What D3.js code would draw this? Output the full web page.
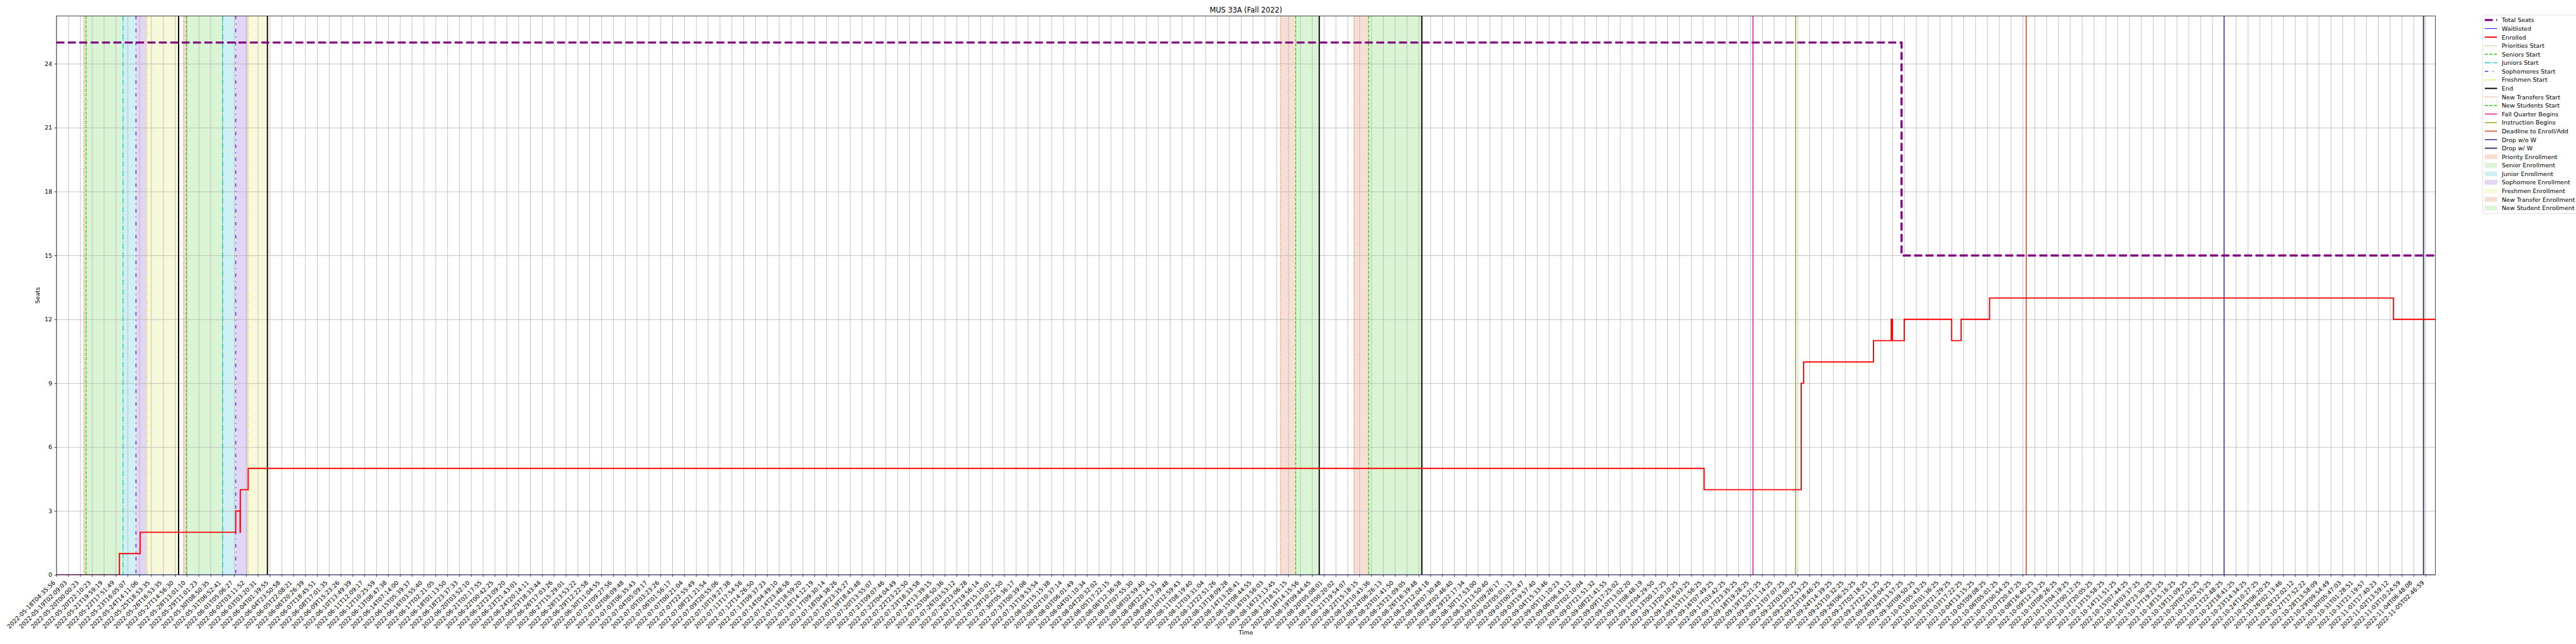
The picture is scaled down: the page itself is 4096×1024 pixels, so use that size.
<!DOCTYPE html>
<html><head><meta charset="utf-8">
<script src="https://cdn.jsdelivr.net/npm/d3@7"></script>
<style>body{margin:0;background:#fff;overflow:hidden} svg{display:block} text{font-family:"DejaVu Sans",sans-serif;fill:#000}</style>
</head><body>
<svg id="c" width="4096" height="1024"></svg>
<script>
// ---------------- data ----------------
const title = "MUS 33A (Fall 2022)";
const tickLabels = [
"2022-05-18T04:35:56","2022-05-19T02:09:03","2022-05-20T00:00:23","2022-05-20T22:10:23","2022-05-21T19:59:19",
"2022-05-22T17:51:49","2022-05-23T16:05:07","2022-05-24T14:11:06","2022-05-25T18:53:35","2022-05-26T16:53:35",
"2022-05-27T14:56:30","2022-05-28T13:01:10","2022-05-29T11:01:23","2022-05-30T08:50:35","2022-05-31T06:52:41",
"2022-06-01T05:06:27","2022-06-02T03:11:52","2022-06-03T03:20:31","2022-06-04T01:39:55","2022-06-04T23:50:58",
"2022-06-05T22:08:21","2022-06-06T20:26:39","2022-06-07T18:45:51","2022-06-08T17:01:35","2022-06-09T15:23:26",
"2022-06-10T13:49:39","2022-06-11T12:09:17","2022-06-12T10:25:59","2022-06-13T08:47:38","2022-06-14T07:14:00",
"2022-06-15T05:39:37","2022-06-16T03:55:40","2022-06-17T02:21:05","2022-06-18T01:13:50","2022-06-18T23:37:33",
"2022-06-20T03:52:10","2022-06-21T02:17:55","2022-06-22T00:42:25","2022-06-22T23:09:20","2022-06-23T21:43:01",
"2022-06-24T20:14:11","2022-06-25T18:33:44","2022-06-26T17:03:26","2022-06-27T15:29:01","2022-06-28T13:53:22",
"2022-06-29T12:22:58","2022-06-30T11:04:55","2022-07-01T09:27:56","2022-07-02T08:09:48","2022-07-03T06:35:43",
"2022-07-04T05:09:17","2022-07-05T03:23:26","2022-07-06T01:56:17","2022-07-07T00:21:04","2022-07-07T22:55:49",
"2022-07-08T21:21:54","2022-07-09T20:55:06","2022-07-10T19:27:38","2022-07-11T17:54:56","2022-07-12T14:26:50",
"2022-07-13T09:37:23","2022-07-14T04:49:10","2022-07-14T23:48:58","2022-07-15T18:59:20","2022-07-16T14:12:19",
"2022-07-17T09:30:14","2022-07-18T04:38:26","2022-07-18T23:35:27","2022-07-19T18:43:48","2022-07-20T13:55:07",
"2022-07-21T09:07:46","2022-07-22T04:04:49","2022-07-22T23:22:50","2022-07-23T18:33:58","2022-07-24T13:39:15",
"2022-07-25T08:50:36","2022-07-26T03:53:12","2022-07-26T23:06:28","2022-07-27T19:56:14","2022-07-28T15:10:01",
"2022-07-29T10:22:50","2022-07-30T05:36:17","2022-07-31T00:39:08","2022-07-31T19:53:54","2022-08-01T15:15:38",
"2022-08-02T10:37:14","2022-08-03T06:01:49","2022-08-04T01:10:34","2022-08-04T20:32:02","2022-08-05T17:22:15",
"2022-08-06T12:36:58","2022-08-07T07:55:30","2022-08-08T02:59:40","2022-08-08T22:14:31","2022-08-09T17:39:48",
"2022-08-10T12:59:43","2022-08-11T08:19:40","2022-08-12T03:31:04","2022-08-12T22:51:26","2022-08-13T18:09:28",
"2022-08-14T13:28:41","2022-08-15T08:44:55","2022-08-16T03:56:03","2022-08-16T23:13:45","2022-08-17T18:51:15",
"2022-08-18T14:15:56","2022-08-19T09:44:45","2022-08-20T05:08:01","2022-08-21T00:20:02","2022-08-21T19:54:07",
"2022-08-22T15:18:15","2022-08-23T10:43:36","2022-08-24T06:26:13","2022-08-25T01:41:50","2022-08-25T21:09:05",
"2022-08-26T16:39:48","2022-08-27T12:04:18","2022-08-28T07:30:48","2022-08-29T02:46:40","2022-08-29T22:17:34",
"2022-08-30T17:53:00","2022-08-31T13:50:40","2022-09-01T09:26:17","2022-09-02T05:01:13","2022-09-03T00:25:47",
"2022-09-03T19:57:40","2022-09-04T15:33:46","2022-09-05T11:10:23","2022-09-06T06:43:12","2022-09-07T02:10:04",
"2022-09-07T21:51:32","2022-09-08T21:41:55","2022-09-09T17:25:02","2022-09-10T13:02:20","2022-09-11T08:48:19",
"2022-09-12T04:29:50","2022-09-13T00:17:25","2022-09-13T20:10:25","2022-09-14T16:03:25","2022-09-15T11:56:25",
"2022-09-16T07:49:25","2022-09-17T03:42:25","2022-09-17T23:35:25","2022-09-18T19:28:25","2022-09-19T15:21:25",
"2022-09-20T11:14:25","2022-09-21T07:07:25","2022-09-22T03:00:25","2022-09-22T22:53:25","2022-09-23T18:46:25",
"2022-09-24T14:39:25","2022-09-25T10:32:25","2022-09-26T06:25:25","2022-09-27T02:18:25","2022-09-27T22:11:25",
"2022-09-28T18:04:25","2022-09-29T13:57:25","2022-09-30T09:50:25","2022-10-01T05:43:25","2022-10-02T01:36:25",
"2022-10-02T21:29:25","2022-10-03T17:22:25","2022-10-04T13:15:25","2022-10-05T09:08:25","2022-10-06T05:01:25",
"2022-10-07T00:54:25","2022-10-07T20:47:25","2022-10-08T16:40:25","2022-10-09T12:33:25","2022-10-10T08:26:25",
"2022-10-11T04:19:25","2022-10-12T00:12:25","2022-10-12T20:05:25","2022-10-13T15:58:25","2022-10-14T11:51:25",
"2022-10-15T07:44:25","2022-10-16T03:37:25","2022-10-16T23:30:25","2022-10-17T19:23:25","2022-10-18T15:16:25",
"2022-10-19T11:09:25","2022-10-20T07:02:25","2022-10-21T02:55:25","2022-10-21T22:48:25","2022-10-22T18:41:25",
"2022-10-23T14:34:25","2022-10-24T10:27:25","2022-10-25T06:20:25","2022-10-26T02:13:46","2022-10-26T22:02:12",
"2022-10-27T17:52:22","2022-10-28T13:58:09","2022-10-29T09:54:49","2022-10-30T05:47:03","2022-10-31T01:28:51",
"2022-10-31T21:19:57","2022-11-01T17:40:23","2022-11-02T13:59:12","2022-11-03T10:24:59","2022-11-04T06:48:08",
"2022-11-05T02:46:59"
];
const yTicks = [0,3,6,9,12,15,18,21,24];
// positions are in axis (tick-index) units
const enrolledX = [0, 5.31, 7.06, 15.13, 15.5, 15.52, 16.18, 139.1, 147.3, 147.5, 153.4, 154.9, 155.0, 156.0, 160.0, 160.8, 163.2, 197.3, 200.83];
const enrolledY = [0, 1, 2, 3, 2, 4, 5, 4, 9, 10, 11, 12, 11, 12, 11, 12, 13, 12, 12];
const totalX = [0, 155.77, 200.83];
const totalY = [25, 15, 15];
const waitX = [0, 200.83];
const waitY = [0, 0];
const spanNames = ["Priority Enrollment","Senior Enrollment","Junior Enrollment","Sophomore Enrollment","Freshmen Enrollment",
                   "Priority Enrollment","Senior Enrollment","Junior Enrollment","Sophomore Enrollment","Freshmen Enrollment",
                   "New Transfer Enrollment","New Student Enrollment","New Transfer Enrollment","New Student Enrollment"];
const spanFrom = [2.32, 2.50, 5.62, 6.71, 7.63, 10.73, 10.96, 14.03, 15.13, 16.18, 103.35, 104.62, 109.55, 110.78];
const spanTo   = [2.50, 5.62, 6.71, 7.63, 10.31, 10.96, 14.03, 15.13, 16.18, 17.81, 104.62, 106.61, 110.78, 115.27];
const lineNames = ["Priorities Start","Seniors Start","Juniors Start","Sophomores Start","Freshmen Start","End",
                   "Priorities Start","Seniors Start","Juniors Start","Sophomores Start","Freshmen Start","End",
                   "New Transfers Start","New Students Start","End","New Transfers Start","New Students Start","End",
                   "Fall Quarter Begins","Instruction Begins","Deadline to Enroll/Add","Drop w/o W","Drop w/ W"];
const linePos = [2.32, 2.50, 5.62, 6.71, 7.63, 10.31, 10.73, 10.96, 14.03, 15.13, 16.18, 17.81,
                 103.35, 104.62, 106.61, 109.55, 110.78, 115.27, 143.23, 146.83, 166.3, 183.0, 199.84];
const legendNames = ["Total Seats","Waitlisted","Enrolled","Priorities Start","Seniors Start","Juniors Start","Sophomores Start",
  "Freshmen Start","End","New Transfers Start","New Students Start","Fall Quarter Begins","Instruction Begins",
  "Deadline to Enroll/Add","Drop w/o W","Drop w/ W","Priority Enrollment","Senior Enrollment","Junior Enrollment",
  "Sophomore Enrollment","Freshmen Enrollment","New Transfer Enrollment","New Student Enrollment"];

// ---------------- styles ----------------
const lineStyle = {
  "Total Seats":{c:"#800080",w:5,d:"18.5,8"},
  "Waitlisted":{c:"#0000ff",w:1.4,d:null},
  "Enrolled":{c:"#ff0000",w:2.8,d:null},
  "Priorities Start":{c:"#e8702a",w:2,d:"2,3"},
  "Seniors Start":{c:"#33cc11",w:2,d:"7.4,3.2"},
  "Juniors Start":{c:"#12c6d8",w:2,d:"12.8,3.2,2,3.2"},
  "Sophomores Start":{c:"#6a22d8",w:2.2,d:"8,10,2,10"},
  "Freshmen Start":{c:"#e0e030",w:2,d:"6,3,2,3,2,3"},
  "End":{c:"#000000",w:2.8,d:null},
  "New Transfers Start":{c:"#e8702a",w:2,d:"2,3"},
  "New Students Start":{c:"#33cc11",w:2,d:"7.4,3.2"},
  "Fall Quarter Begins":{c:"#e0159e",w:2.2,d:null},
  "Instruction Begins":{c:"#86b412",w:2.2,d:null},
  "Deadline to Enroll/Add":{c:"#d2451a",w:2.2,d:null},
  "Drop w/o W":{c:"#3a2a90",w:2.2,d:null},
  "Drop w/ W":{c:"#2b3a58",w:2.8,d:null}
};
const spanStyle = {
  "Priority Enrollment":"#f7dfd4","Senior Enrollment":"#daf5d3","Junior Enrollment":"#cff1f4",
  "Sophomore Enrollment":"#e2d5f6","Freshmen Enrollment":"#f8f9da","New Transfer Enrollment":"#f7dfd4",
  "New Student Enrollment":"#daf5d3"
};

// ---------------- layout (reference pixels) ----------------
const S = 4096/6000;
const L = 131.6, R = 5672.3, T = 37, B = 1339;
const svg = d3.select("#c");
const g = svg.append("g").attr("transform", `scale(${S})`);
g.append("rect").attr("width",6000).attr("height",1500).attr("fill","#fff");

const x = d3.scaleLinear().domain([0, 200 + (R-5649.3)/27.59]).range([L, R]);
const y = d3.scaleLinear().domain([0, 26.25]).range([B, T]);
const tickIdx = d3.range(tickLabels.length);

const plot = g.append("g");
plot.append("defs").append("clipPath").attr("id","clip").append("rect")
  .attr("x",L).attr("y",T).attr("width",R-L).attr("height",B-T);
const clipped = plot.append("g").attr("clip-path","url(#clip)");

// spans
clipped.selectAll("rect.span").data(spanFrom.map((f,i)=>({f,t:spanTo[i],n:spanNames[i]}))).join("rect")
  .attr("class","span").attr("x",d=>x(d.f)).attr("width",d=>x(d.t)-x(d.f)).attr("y",T).attr("height",B-T)
  .attr("fill",d=>spanStyle[d.n]);

// grid
const gx = d3.axisBottom(x).tickValues(tickIdx).tickSize(-(B-T)).tickFormat("");
clipped.append("g").attr("transform",`translate(0,${B})`).call(gx)
  .call(s=>s.select(".domain").remove())
  .call(s=>s.selectAll("line").attr("stroke","#b0b0b0").attr("stroke-width",1.1));
const gy = d3.axisLeft(y).tickValues(yTicks).tickSize(-(R-L)).tickFormat("");
clipped.append("g").attr("transform",`translate(${L},0)`).call(gy)
  .call(s=>s.select(".domain").remove())
  .call(s=>s.selectAll("line").attr("stroke","#b0b0b0").attr("stroke-width",1.1));

// vertical event lines
clipped.selectAll("line.ev").data(linePos.map((p,i)=>({p,n:lineNames[i]}))).join("line")
  .attr("class","ev").attr("x1",d=>x(d.p)).attr("x2",d=>x(d.p)).attr("y1",T).attr("y2",B)
  .attr("stroke",d=>lineStyle[d.n].c).attr("stroke-width",d=>lineStyle[d.n].w)
  .attr("stroke-dasharray",d=>lineStyle[d.n].d);

// series
const stepLine = d3.line().x(d=>x(d[0])).y(d=>y(d[1])).curve(d3.curveStepAfter);
function series(xs, ys, name){
  const st = lineStyle[name];
  clipped.append("path").datum(xs.map((v,i)=>[v,ys[i]])).attr("d",stepLine)
    .attr("fill","none").attr("stroke",st.c).attr("stroke-width",st.w)
    .attr("stroke-dasharray",st.d).attr("stroke-linejoin","miter");
}
series(totalX,totalY,"Total Seats");
series(enrolledX,enrolledY,"Enrolled");
series(waitX,waitY,"Waitlisted");

// frame
plot.append("rect").attr("x",L).attr("y",T).attr("width",R-L).attr("height",B-T)
  .attr("fill","none").attr("stroke","#000").attr("stroke-width",1.1);

// axes ticks + labels
const FS = 13.9;
const ax = plot.append("g").attr("transform",`translate(0,${B})`)
  .call(d3.axisBottom(x).tickValues(tickIdx).tickSize(4.9).tickPadding(0).tickFormat(""));
ax.select(".domain").remove();
ax.selectAll("line").attr("stroke","#000").attr("stroke-width",1.1);
const hh = 1.164*FS*0.354;
plot.append("g").selectAll("text").data(tickIdx).join("text")
  .attr("transform",i=>`translate(${x(i)-hh},${B+4.9+4.9+hh}) rotate(-45)`)
  .attr("text-anchor","end").attr("dominant-baseline","central")
  .style("font-size",FS+"px").text(i=>tickLabels[i]);

const ay = plot.append("g").attr("transform",`translate(${L},0)`)
  .call(d3.axisLeft(y).tickValues(yTicks).tickSize(4.9).tickPadding(4.9));
ay.select(".domain").remove();
ay.selectAll("line").attr("stroke","#000").attr("stroke-width",1.1);
ay.selectAll("text").style("font-size",FS+"px").attr("font-family","DejaVu Sans");

// titles
g.append("text").attr("x",(L+R)/2).attr("y",T-8.3).attr("text-anchor","middle")
  .style("font-size","16.7px").text(title);
g.append("text").attr("x",(L+R)/2).attr("y",1478).attr("text-anchor","middle")
  .style("font-size",FS+"px").text("Time");
g.append("text").attr("transform",`translate(92,${(T+B)/2}) rotate(-90)`).attr("text-anchor","middle")
  .style("font-size",FS+"px").text("Seats");

// legend
const lg = g.append("g").attr("transform","translate(5782.7,35)");
lg.append("rect").attr("x",0).attr("y",0).attr("width",230).attr("height",462).attr("rx",3)
  .attr("fill","#fff").attr("fill-opacity",0.8).attr("stroke","#d6d6d6").attr("stroke-width",1.1);
legendNames.forEach((n,i)=>{
  const cy = 11.7 + i*19.9;
  if (lineStyle[n]) {
    const st = lineStyle[n];
    lg.append("line").attr("x1",5).attr("x2",33.5).attr("y1",cy).attr("y2",cy)
      .attr("stroke",st.c).attr("stroke-width",st.w).attr("stroke-dasharray",st.d);
  } else {
    lg.append("rect").attr("x",5).attr("y",cy-5).attr("width",28.5).attr("height",10)
      .attr("fill",spanStyle[n]).attr("stroke",spanStyle[n]).attr("stroke-width",1);
  }
  lg.append("text").attr("x",44.5).attr("y",cy).attr("dominant-baseline","central")
    .style("font-size",FS+"px").text(n);
});
</script>
</body></html>
